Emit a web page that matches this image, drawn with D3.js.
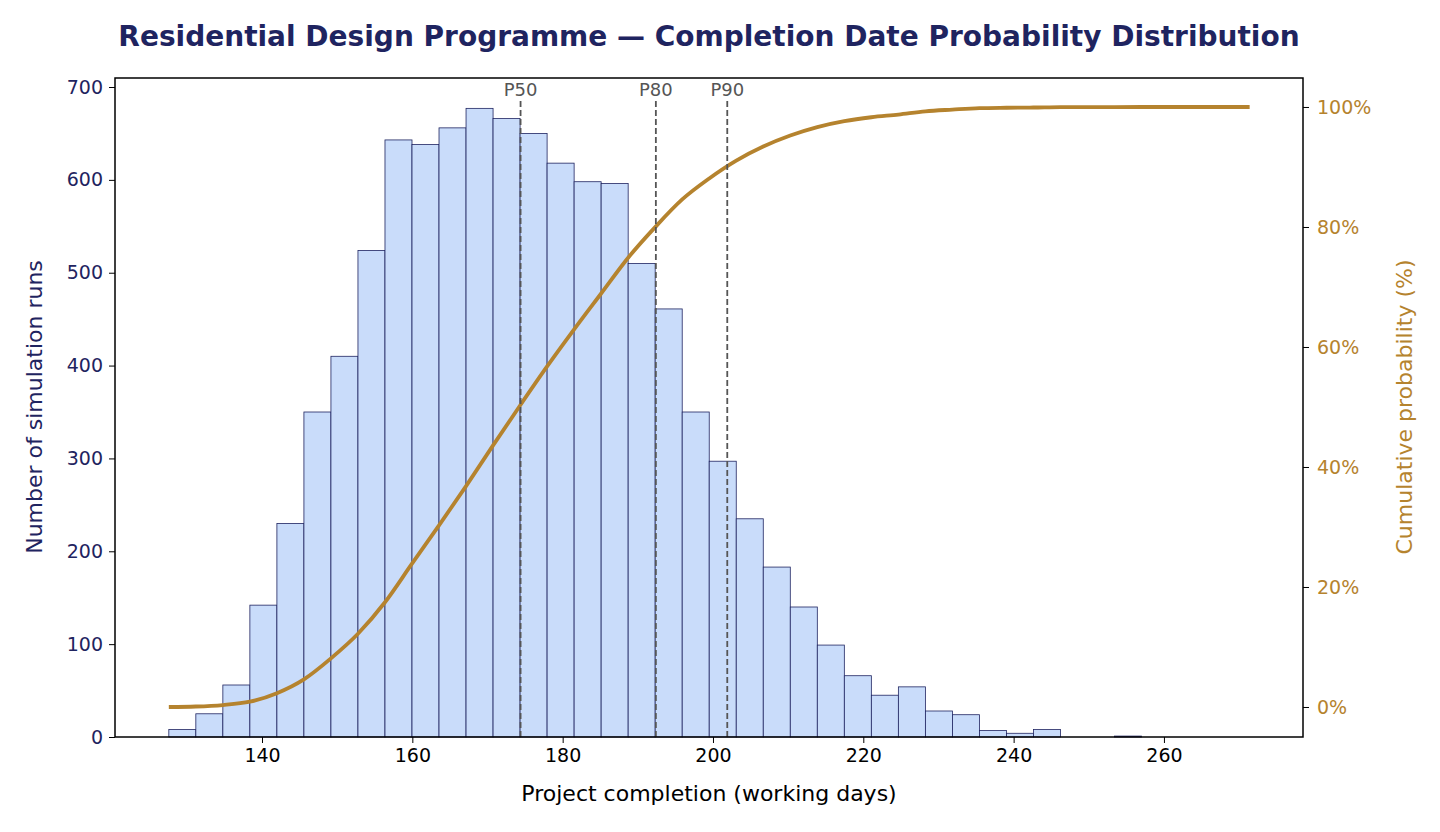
<!DOCTYPE html>
<html><head><meta charset="utf-8">
<script src="https://cdn.jsdelivr.net/npm/d3@7"></script>
<style>body{margin:0;background:#fff;font-family:"DejaVu Sans",sans-serif}</style>
</head><body>
<script>
// histogram bins (working days) and counts
var binStart = 127.6, binWidth = 3.595;
var counts = [8,25,56,142,230,350,410,524,643,638,656,677,666,650,618,598,596,510,461,350,297,235,183,140,99,66,45,54,28,24,7,4,8,0,0,1,0,0,0,0];
var pLabels = ["P50","P80","P90"];
var pValues = [174.4,192.4,201.9];
var leftTicks = [0,100,200,300,400,500,600,700];
var rightTicks = [0,20,40,60,80,100];
var xTicks = [140,160,180,200,220,240,260];

var W = 1440, H = 832;
var m = {l:115, r:1303, t:78, b:737};
var navy = "#1f2460", gold = "#b5832e";
var svg = d3.select("body").append("svg").attr("width", W).attr("height", H);

var x = d3.scaleLinear().domain([120.44,278.5]).range([m.l,m.r]);
var y = d3.scaleLinear().domain([0,709.7]).range([m.b,m.t]);
var y2 = d3.scaleLinear().domain([-5,104.83]).range([m.b,m.t]);

svg.append("text").attr("x",709).attr("y",46).attr("text-anchor","middle")
  .attr("font-size",28).attr("font-weight","bold").attr("fill",navy)
  .text("Residential Design Programme — Completion Date Probability Distribution");

svg.append("g").selectAll("rect").data(counts).join("rect")
  .attr("x",(d,i)=>x(binStart+i*binWidth))
  .attr("width",(d,i)=>x(binStart+(i+1)*binWidth)-x(binStart+i*binWidth))
  .attr("y",d=>y(d)).attr("height",d=>y(0)-y(d))
  .attr("fill","#c9dcfa").attr("stroke",navy).attr("stroke-width",0.8)
  .style("display",d=>d>0?null:"none");

// cumulative curve from counts (ends at last sample, 271.4)
var total = d3.sum(counts), cum = 0;
var cdf = [[binStart,0]];
counts.forEach((c,i)=>{cum+=c; cdf.push([binStart+(i+1)*binWidth, cum/total*100]);});
svg.append("path").datum(cdf)
  .attr("d",d3.line().x(d=>x(d[0])).y(d=>y2(d[1])).curve(d3.curveMonotoneX))
  .attr("fill","none").attr("stroke",gold).attr("stroke-width",3.8);

pValues.forEach((v,i)=>{
  svg.append("line").attr("x1",x(v)).attr("x2",x(v)).attr("y1",m.b).attr("y2",m.t+22)
    .attr("stroke","#555").attr("stroke-width",1.8).attr("stroke-dasharray","6,3");
  svg.append("text").attr("x",x(v)).attr("y",96).attr("text-anchor","middle")
    .attr("font-size",18).attr("fill","#555").text(pLabels[i]);
});

svg.append("rect").attr("x",m.l).attr("y",m.t).attr("width",m.r-m.l).attr("height",m.b-m.t)
  .attr("fill","none").attr("stroke","#000").attr("stroke-width",1.5);

var gx = svg.append("g").attr("transform","translate(0,"+m.b+")")
  .call(d3.axisBottom(x).tickValues(xTicks).tickSize(6).tickPadding(6));
var gy = svg.append("g").attr("transform","translate("+m.l+",0)")
  .call(d3.axisLeft(y).tickValues(leftTicks).tickSize(6).tickPadding(6));
var gy2 = svg.append("g").attr("transform","translate("+m.r+",0)")
  .call(d3.axisRight(y2).tickValues(rightTicks).tickFormat(d=>d+"%").tickSize(6).tickPadding(8));
[gx,gy,gy2].forEach(g=>{g.select(".domain").remove();
  g.selectAll("text").attr("font-size",19).attr("font-family","DejaVu Sans");});
gx.selectAll("text").attr("fill","#000");
gy.selectAll("text").attr("fill",navy); gy.selectAll("line").attr("stroke","#000");
gy2.selectAll("text").attr("fill",gold); gy2.selectAll("line").attr("stroke","#000");

svg.append("text").attr("x",709).attr("y",801).attr("text-anchor","middle")
  .attr("font-size",22).attr("fill","#000").text("Project completion (working days)");
svg.append("text").attr("transform","translate(42,407) rotate(-90)").attr("text-anchor","middle")
  .attr("font-size",22).attr("fill",navy).text("Number of simulation runs");
svg.append("text").attr("transform","translate(1412,407) rotate(-90)").attr("text-anchor","middle")
  .attr("font-size",22).attr("fill",gold).text("Cumulative probability (%)");
</script>
</body></html>
